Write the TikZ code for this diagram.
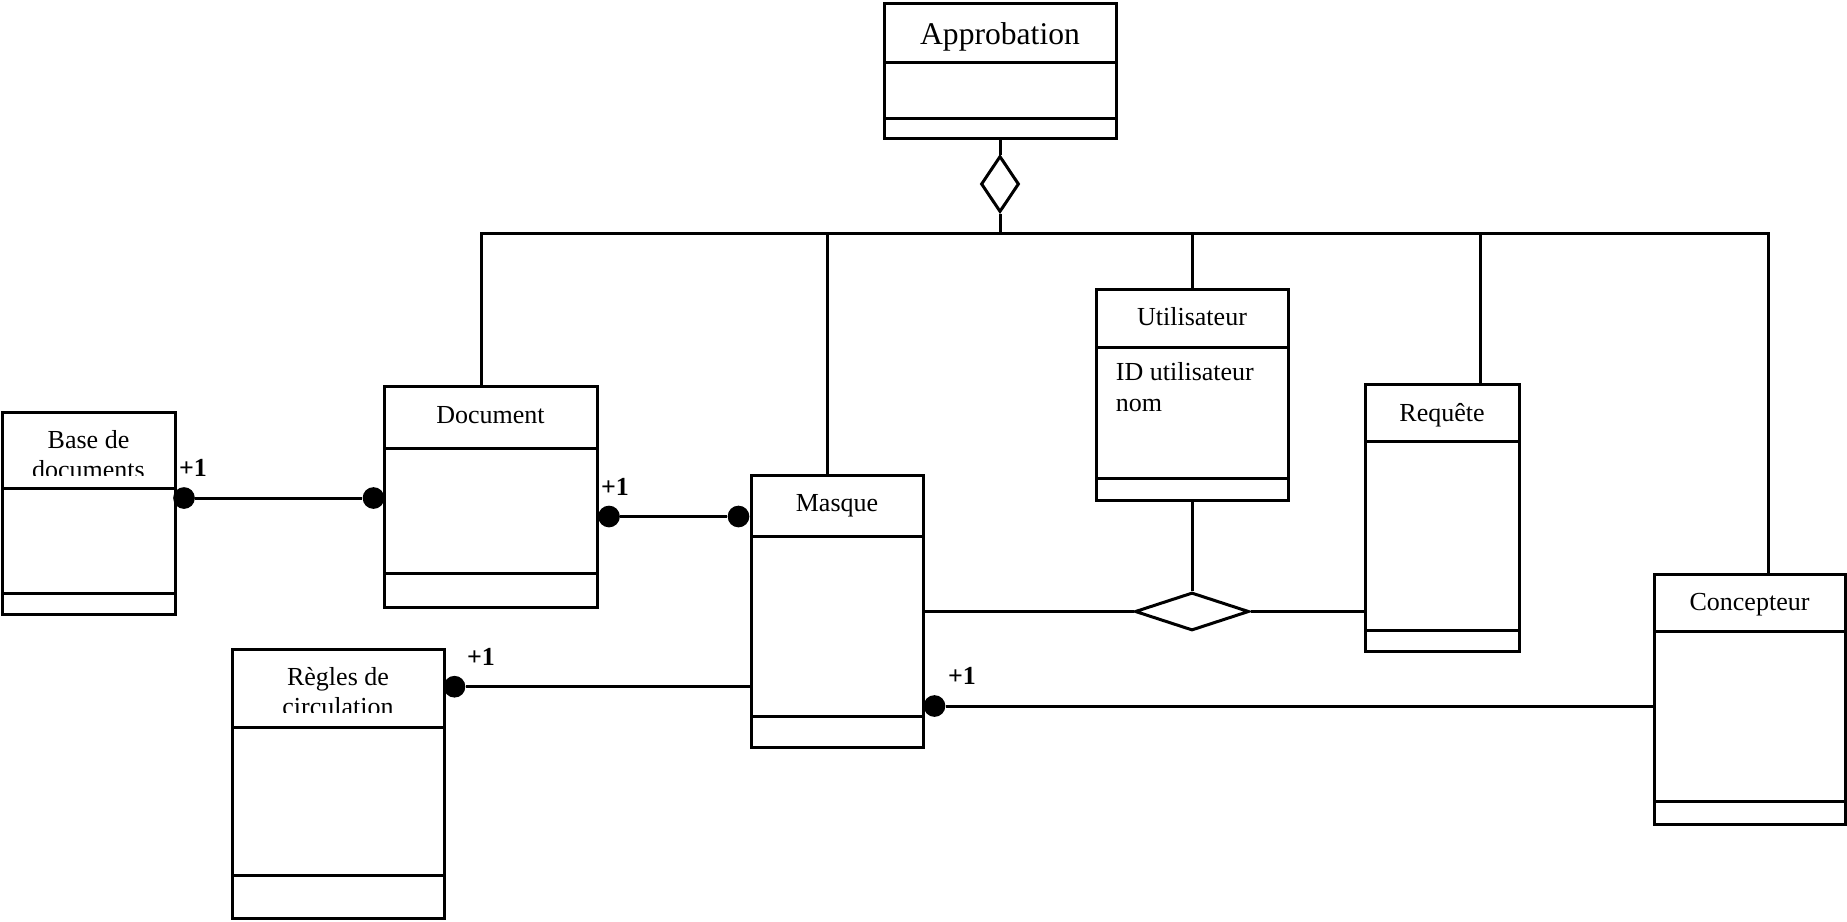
\documentclass[tikz,border=0pt]{standalone}
\usepackage{fontspec}
\setmainfont{Liberation Serif}
\usetikzlibrary{shapes.geometric}
% class box: name, left, top, right, bottom, header line, operations line
\newcommand\umlclassbox[7]{%
  \node[classbox, minimum width={(#4-#2)*0.5pt}, minimum height={(#5-#3)*0.5pt}] (#1) at (#2,#3) {};
  \draw[sepline] (#2,#6) -- (#4,#6);
  \draw[sepline] (#2,#7) -- (#4,#7);
}
\begin{document}
\begin{tikzpicture}[x=0.5pt,y=-0.5pt,
  classbox/.style={draw, line width=1.5pt, anchor=north west, inner sep=0pt, outer sep=0pt},
  sepline/.style={line width=1.5pt},
  link/.style={line width=1.5pt},
  title/.style={font=\fontsize{13}{15}\selectfont, anchor=base, inner sep=0pt},
  attr/.style={font=\fontsize{13}{15}\selectfont, anchor=base west, inner sep=0pt},
  mult/.style={font=\fontsize{13}{15}\selectfont\bfseries, inner sep=0pt},
  dot/.style={circle, fill=black, inner sep=0pt, minimum size=10.85pt},
  aggr/.style={diamond, draw, line width=1.5pt, inner sep=0pt, fill=white}]
\useasboundingbox (0,0) rectangle (1847,921);

% classes
\umlclassbox{approb}{884}{3}{1116}{138}{62}{118}
\umlclassbox{base}{2}{412}{175}{614}{488}{593}
\umlclassbox{doc}{384}{386}{597}{607}{448}{573}
\umlclassbox{masque}{751}{475}{923}{747}{536.5}{716}
\umlclassbox{regles}{232}{649}{444}{918}{727}{875}
\umlclassbox{util}{1096}{289}{1288}{500}{347}{478.5}
\umlclassbox{req}{1365}{384}{1519}{651.5}{441}{630}
\umlclassbox{conc}{1654}{574}{1845}{824}{631.5}{801}

% class names
\node[title, font=\fontsize{15.8}{18}\selectfont] (tApprob) at (1000,44) {Approbation};
\begin{scope}
  \clip (2,412) rectangle (175,475.5);
  \node[title] (tBase1) at (88.5,448) {Base de};
  \node[title] (tBase2) at (88.5,478) {documents};
\end{scope}
\node[title] (tDoc) at (490.5,423) {Document};
\node[title] (tMasque) at (837,511.5) {Masque};
\begin{scope}
  \clip (232,649) rectangle (444,712.5);
  \node[title] (tRegles1) at (338,685) {Règles de};
  \node[title] (tRegles2) at (338,715) {circulation};
\end{scope}
\node[title] (tUtil) at (1192,325) {Utilisateur};
\node[title] (tReq) at (1442,421.5) {Requête};
\node[title] (tConc) at (1749.5,610) {Concepteur};

% attributes
\node[attr] (aId) at (1115.5,380) {ID utilisateur};
\node[attr] (aNom) at (1115.5,411.5) {nom};

% aggregation towards Approbation
\node[aggr, minimum width=19pt, minimum height=28pt] (agg) at (1000,184) {};
\draw[link] (approb.south) -- (agg.north);
\coordinate (busL) at (481.6,233);
\coordinate (busR) at (1768,233);
\coordinate (tapM) at (827,233);
\coordinate (tapR) at (1480,233);
\draw[link] (busL |- doc.north) -- (busL) -- (busR) -- (busR |- conc.north);
\draw[link] (agg.south) -- (agg.south |- busL);
\draw[link] (tapM) -- (tapM |- masque.north);
\draw[link] (util.north |- busL) -- (util.north);
\draw[link] (tapR) -- (tapR |- req.north);

% association Masque - Utilisateur - Requête
\node[aggr, minimum width=57pt, minimum height=19pt] (assoc) at (1192,611.5) {};
\draw[link] (util.south) -- (assoc.north);
\draw[link] (masque.east |- assoc) -- (assoc.west);
\draw[link] (assoc.east) -- (req.west |- assoc);

% qualified links with dots
\node[dot] (dBase) at (184,498) {};
\node[dot] (dDocL) at (373.5,498) {};
\node[dot] (dDocR) at (609,516.5) {};
\node[dot] (dMasL) at (738.5,516.5) {};
\node[dot] (dRegles) at (454.5,686.7) {};
\node[dot] (dMasR) at (934.5,706) {};
\draw[link] (dBase) -- (dDocL);
\draw[link] (dDocR) -- (dMasL);
\draw[link] (dRegles) -- (masque.west |- dRegles);
\draw[link] (dMasR) -- (conc.west |- dMasR);

% multiplicities
\node[mult] (m1) at (193,468) {+1};
\node[mult] (m2) at (615,487) {+1};
\node[mult] (m3) at (481,656.5) {+1};
\node[mult] (m4) at (962,676) {+1};
\end{tikzpicture}
\end{document}
